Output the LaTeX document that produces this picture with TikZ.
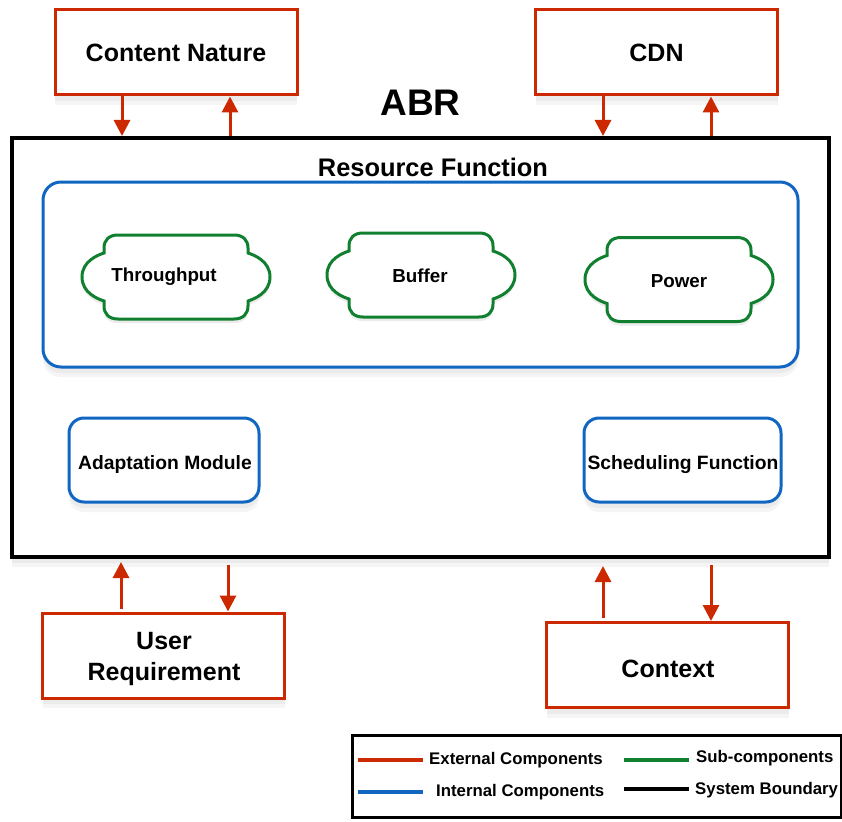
\documentclass[tikz,border=0pt]{standalone}
\usepackage{fontspec}
\setmainfont{Liberation Sans}
\usetikzlibrary{arrows.meta,shadows}
\definecolor{extred}{RGB}{204,41,0}
\definecolor{intblue}{RGB}{16,102,192}
\definecolor{subgreen}{RGB}{16,128,48}
\tikzset{
  sh/.style={drop shadow={fill=black!4,opacity=1,shadow xshift=0pt,shadow yshift=-10pt},
             drop shadow={fill=black!8,opacity=1,shadow xshift=0pt,shadow yshift=-6pt}},
  extbox/.style={draw=extred,line width=3pt,fill=white,sh,minimum width=242pt,minimum height=85pt,align=center,font=\fontsize{25}{31}\selectfont\bfseries},
  intbox/.style={draw=intblue,line width=3pt,fill=white,rounded corners=15pt,sh},
  subline/.style={draw=subgreen,line width=3pt,fill=white},
  subsh/.style={fill=black!8},
  lbl/.style={font=\fontsize{18.8}{22}\selectfont\bfseries,inner sep=0pt},
  flow/.style={draw=extred,line width=3pt,-{Triangle[length=16pt,width=16pt]}},
  legtxt/.style={anchor=west,inner sep=0pt,font=\fontsize{16.8}{20}\selectfont\bfseries},
  legline/.style={line width=4pt},
}
\newcommand\cloudpath{(-58,-42) -- (58,-42) .. controls (67,-42) and (72,-37) .. (72,-29) -- (72,-24)
    .. controls (78,-22) and (94,-16) .. (94,0) .. controls (94,16) and (78,22) .. (72,24)
    -- (72,29) .. controls (72,37) and (67,42) .. (58,42) -- (-58,42)
    .. controls (-67,42) and (-72,37) .. (-72,29) -- (-72,24)
    .. controls (-78,22) and (-94,16) .. (-94,0) .. controls (-94,-16) and (-78,-22) .. (-72,-24)
    -- (-72,-29) .. controls (-72,-37) and (-67,-42) .. (-58,-42) -- cycle}
\newcommand\subcloud[2]{%
  \begin{scope}[shift={(#1,#2+4)}]
  \path[subsh] \cloudpath;
  \end{scope}
  \begin{scope}[shift={(#1,#2)}]
  \path[subline] \cloudpath;
  \end{scope}}
\begin{document}
\begin{tikzpicture}[x=1pt,y=-1pt]
\useasboundingbox (0,0) rectangle (842,821);
% system boundary
\node[draw=black,line width=4pt,fill=white,sh,minimum width=817pt,minimum height=419pt] (sys) at (420.5,347.5) {};
\node[font=\fontsize{37}{40}\selectfont\bfseries,inner sep=0pt] (abr) at (420.5,103) {ABR};
\node[font=\fontsize{25.4}{30}\selectfont\bfseries,inner sep=0pt] (rf) at (433,167) {Resource Function};
% resource function group
\node[intbox,rounded corners=18pt,minimum width=755pt,minimum height=185pt] (res) at (420.5,274.5) {};
\subcloud{176}{277}
\subcloud{421}{275}
\subcloud{679}{279.5}
\node[lbl] (thr) at (164,277) {Throughput};
\node[lbl] (buf) at (420,276) {Buffer};
\node[lbl] (pow) at (679,281) {Power};
% internal modules
\node[intbox,minimum width=190pt,minimum height=84pt] (adm) at (164,460) {};
\node[lbl,font=\fontsize{19.3}{22}\selectfont\bfseries] (admt) at (165,465) {Adaptation Module};
\node[intbox,minimum width=197pt,minimum height=84pt] (sch) at (682.5,460) {};
\node[lbl,font=\fontsize{19.3}{22}\selectfont\bfseries] (scht) at (683,465) {Scheduling Function};
% external components
\node[extbox] (cn) at (176,52.5) {Content Nature};
\node[extbox] (cdn) at (656.5,52.5) {CDN};
\node[extbox] (ur) at (163.5,655.5) {};
\node[font=\fontsize{25}{31}\selectfont\bfseries,align=center,inner sep=0pt] (urt) at (164,659) {User\\Requirement};
\node[extbox] (ctx) at (667.5,665) {};
\node[font=\fontsize{25}{31}\selectfont\bfseries,inner sep=0pt] (ctxt) at (668,669) {Context};
% flows
\draw[flow] (122,0 |- cn.south) -- (122,0 |- sys.north);
\draw[flow] (230,0 |- sys.north) -- (230,0 |- cn.south);
\draw[flow] (603,0 |- cdn.south) -- (603,0 |- sys.north);
\draw[flow] (711,0 |- sys.north) -- (711,0 |- cdn.south);
\draw[flow] ([yshift=3pt]121,0 |- ur.north) -- ([yshift=-3pt]121,0 |- sys.south);
\draw[flow] ([yshift=-6pt]228,0 |- sys.south) -- (228,0 |- ur.north);
\draw[flow] ([yshift=3pt]603,0 |- ctx.north) -- ([yshift=-7pt]603,0 |- sys.south);
\draw[flow] ([yshift=-6pt]711,0 |- sys.south) -- (711,0 |- ctx.north);
% legend
\draw[line width=3pt,fill=white] (352,735) rectangle (841,817);
\node[legtxt] (l1) at (429,760) {External Components};
\node[legtxt] (l2) at (436,792) {Internal Components};
\node[legtxt] (l3) at (696,758) {Sub-components};
\node[legtxt] (l4) at (695,790) {System Boundary};
\draw[legline,extred] (358,760) -- (423,760);
\draw[legline,intblue] (358,792) -- (423,792);
\draw[legline,subgreen] (624,760) -- (689,760);
\draw[legline,black] (624,789) -- (689,789);
\end{tikzpicture}
\end{document}
